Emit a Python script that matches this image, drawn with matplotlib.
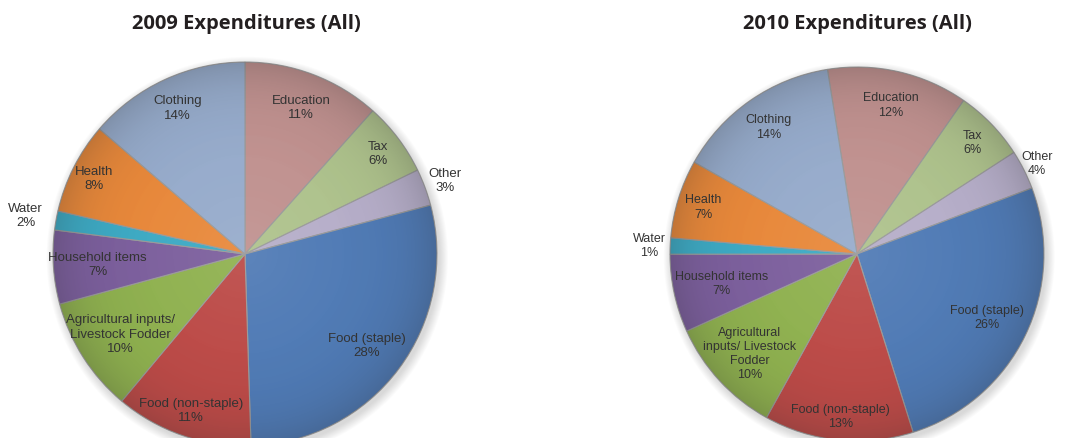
import numpy as np
import matplotlib
matplotlib.use("Agg")
import matplotlib.pyplot as plt
from matplotlib.patches import Circle

# ---------------- data ----------------
categories = ["Education", "Tax", "Other", "Food (staple)", "Food (non-staple)",
              "Agricultural inputs/ Livestock Fodder", "Household items",
              "Water", "Health", "Clothing"]

values_2009 = [11.6, 6.2, 3.1, 28.6, 11.6, 9.7, 6.2, 1.6, 7.7, 13.7]
values_2010 = [12.2, 6.2, 3.4, 25.9, 12.9, 10.2, 6.75, 1.4, 6.8, 14.3]

labels_2009 = ["Education\n11%", "Tax\n6%", "Other\n3%", "Food (staple)\n28%",
               "Food (non-staple)\n11%", "Agricultural inputs/\nLivestock Fodder\n10%",
               "Household items\n7%", "Water\n2%", "Health\n8%", "Clothing\n14%"]
labels_2010 = ["Education\n12%", "Tax\n6%", "Other\n4%", "Food (staple)\n26%",
               "Food (non-staple)\n13%", "Agricultural\ninputs/ Livestock\nFodder\n10%",
               "Household items\n7%", "Water\n1%", "Health\n7%", "Clothing\n14%"]

titles = ["2009 Expenditures (All)", "2010 Expenditures (All)"]

# ---------------- style ----------------
colors = ["#C0918F", "#AEC28C", "#B6AEC9", "#4F7AB5", "#BC4A47",
          "#8FB14F", "#7C5F9D", "#3DAAC4", "#E8883A", "#96ABCB"]
label_r_2009 = [0.82, 0.87, 1.11, 0.79, 0.86, 0.77, 0.77, 1.16, 0.88, 0.84]
label_r_2010 = [0.82, 0.86, 1.08, 0.77, 0.87, 0.78, 0.74, 1.11, 0.86, 0.83]

W, H = 1070, 439
fig = plt.figure(figsize=(W / 100, H / 100), dpi=100)
fig.patch.set_facecolor("white")


def make_axes(px_left, px_right, px_top, cx, cy, scale):
    ax = fig.add_axes([px_left / W, 0, (px_right - px_left) / W, (H - px_top) / H])
    lims = ((px_left - cx) / scale, (px_right - cx) / scale,
            (cy - H) / scale, (cy - px_top) / scale)
    return ax, lims


def draw_pie(ax, lims, values, labels, startangle, label_r, fs):
    # soft shadow
    for i in range(10):
        ax.add_patch(Circle((0.012, -0.018), 1.0 + 0.005 * i, color="#808080",
                            alpha=0.03, lw=0, zorder=0))
    wedges, _ = ax.pie(values, colors=colors, startangle=startangle,
                       counterclock=False, radius=1.0,
                       wedgeprops=dict(edgecolor="#999999", linewidth=0.8, zorder=1))
    # radial shading (darker at rim)
    n = 500
    g = np.linspace(-1, 1, n)
    xx, yy = np.meshgrid(g, g)
    rr = np.sqrt(xx ** 2 + yy ** 2)
    rgba = np.zeros((n, n, 4))
    rgba[..., :3] = 0.15
    rgba[..., 3] = np.clip(0.20 * rr ** 6, 0, 1)
    im = ax.imshow(rgba, extent=(-1, 1, -1, 1), origin="lower", zorder=2,
                   interpolation="bilinear")
    im.set_clip_path(Circle((0, 0), 1.0, transform=ax.transData))
    # light center
    rgba2 = np.zeros((n, n, 4))
    rgba2[..., :3] = 1.0
    rgba2[..., 3] = np.clip(0.08 * (1 - rr) ** 2, 0, 1) * (rr < 1)
    im2 = ax.imshow(rgba2, extent=(-1, 1, -1, 1), origin="lower", zorder=2,
                    interpolation="bilinear")
    im2.set_clip_path(Circle((0, 0), 1.0, transform=ax.transData))
    for w, lab, r in zip(wedges, labels, label_r):
        th = np.deg2rad((w.theta1 + w.theta2) / 2)
        ax.text(r * np.cos(th), r * np.sin(th), lab, ha="center", va="center",
                fontsize=fs, family="Liberation Sans", color="#333333",
                linespacing=1.25, zorder=4)
    ax.set_aspect("auto")
    ax.set_xlim(lims[0], lims[1])
    ax.set_ylim(lims[2], lims[3])
    ax.axis("off")


ax1, l1 = make_axes(0, 535, 35, 245, 255, 192)
draw_pie(ax1, l1, values_2009, labels_2009, 90, label_r_2009, 9.5)
ax2, l2 = make_axes(535, 1070, 35, 857, 255, 187)
draw_pie(ax2, l2, values_2010, labels_2010, 99.1, label_r_2010, 9.0)

fig.text(246 / W, 1 - 24 / H, titles[0], ha="center", va="center", fontsize=14.5,
         fontweight="bold", family="Open Sans", color="#231f20")
fig.text(857 / W, 1 - 24 / H, titles[1], ha="center", va="center", fontsize=14.5,
         fontweight="bold", family="Open Sans", color="#231f20")

fig.savefig("out.png", dpi=100, facecolor="white")
